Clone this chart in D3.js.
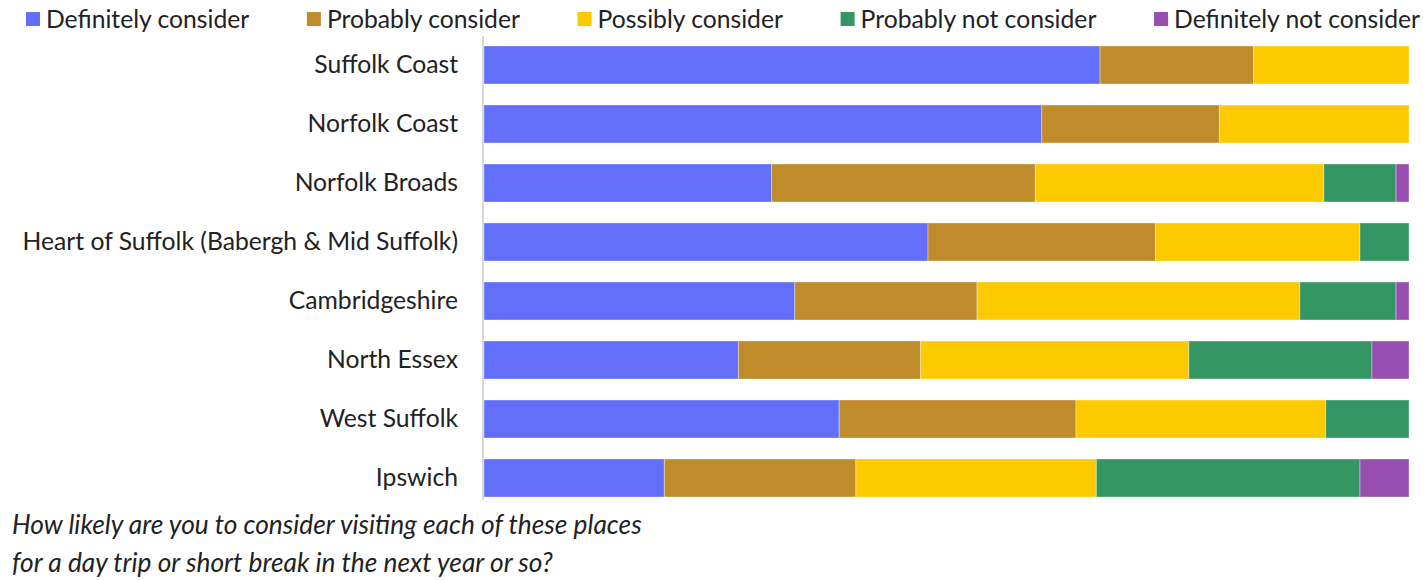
<!DOCTYPE html>
<html><head><meta charset="utf-8">
<script src="https://cdn.jsdelivr.net/npm/d3@7"></script>
<style>html,body{margin:0;padding:0;background:#fff;}svg{display:block;}</style>
</head><body>
<svg id="chart" width="1423" height="580"></svg>
<script>
const categories = ["Suffolk Coast","Norfolk Coast","Norfolk Broads","Heart of Suffolk (Babergh & Mid Suffolk)","Cambridgeshire","North Essex","West Suffolk","Ipswich"];
const seriesNames = ["Definitely consider","Probably consider","Possibly consider","Probably not consider","Definitely not consider"];
const definitely    = [66.6, 60.3, 31.1, 48.0, 33.6, 27.5, 38.4, 19.5];
const probably      = [16.6, 19.2, 28.5, 24.6, 19.7, 19.7, 25.6, 20.7];
const possibly      = [16.8, 20.5, 31.2, 22.1, 34.9, 29.0, 27.0, 26.0];
const probablyNot   = [0.0,  0.0,  7.8,  5.3, 10.4, 19.8,  9.0, 28.5];
const definitelyNot = [0.0,  0.0,  1.4,  0.0,  1.4,  4.0,  0.0,  5.3];
const colors = ["#636efa","#c08b2b","#fdca00","#339663","#984fb1"];
const captionLines = ["How likely are you to consider visiting each of these places","for a day trip or short break in the next year or so?"];

const seriesValues = [definitely, probably, possibly, probablyNot, definitelyNot];
const rows = categories.map((c,i)=>{ const o={cat:c}; seriesNames.forEach((s,j)=>o[s]=seriesValues[j][i]); return o; });
const stack = d3.stack().keys(seriesNames)(rows);

const svg = d3.select("#chart");
const font = "Lato, 'Noto Sans', sans-serif";
const m = {left:484, right:1409, top:36, bottom:500};
const x = d3.scaleLinear().domain([0,100]).range([m.left, m.right]);
const y = d3.scaleBand().domain(categories).range([46, 497]).paddingInner(0.356).paddingOuter(0);

svg.append("g").selectAll("g").data(stack).join("g")
  .attr("fill",(d,i)=>colors[i])
  .selectAll("rect").data(d=>d.filter(p=>p[1]-p[0]>0)).join("rect")
  .attr("x",d=>x(d[0])).attr("width",d=>x(d[1])-x(d[0]))
  .attr("y",d=>y(d.data.cat)).attr("height",y.bandwidth())
  .attr("stroke","#ffffff").attr("stroke-opacity",0.35).attr("stroke-width",1);

svg.append("line").attr("x1",m.left-1).attr("x2",m.left-1).attr("y1",m.top).attr("y2",m.bottom)
  .attr("stroke","#d9d9d9").attr("stroke-width",2);

const yAxis = d3.axisLeft(y).tickSize(0).tickPadding(26);
const ga = svg.append("g").attr("transform",`translate(${m.left},0)`).call(yAxis);
ga.select(".domain").remove();
ga.selectAll("text").attr("font-family",font).attr("font-size",24.7).attr("fill","#222").attr("dy","0.32em");

// legend
const lg = svg.append("g");
const items = lg.selectAll("g").data(seriesNames).join("g");
items.append("rect").attr("width",14).attr("height",14).attr("y",12).attr("fill",(d,i)=>colors[i]);
items.append("text").attr("x",20).attr("y",19).attr("dy","0.35em").text(d=>d)
  .attr("font-family",font).attr("font-size",24.7).attr("fill","#222");
const widths = items.nodes().map(n=>20+d3.select(n).select("text").node().getComputedTextLength());
const total = d3.sum(widths); const startX=26, endX=1420;
const gap = (endX-startX-total)/(seriesNames.length-1);
let cx = startX;
items.each(function(d,i){ d3.select(this).attr("transform",`translate(${cx},0)`); cx += widths[i]+gap; });

svg.append("g").selectAll("text").data(captionLines).join("text")
  .attr("x",12).attr("y",(d,i)=>534+i*38).text(d=>d)
  .attr("font-family",font).attr("font-size",26.3).attr("font-style","italic").attr("fill","#222");
</script>
</body></html>
